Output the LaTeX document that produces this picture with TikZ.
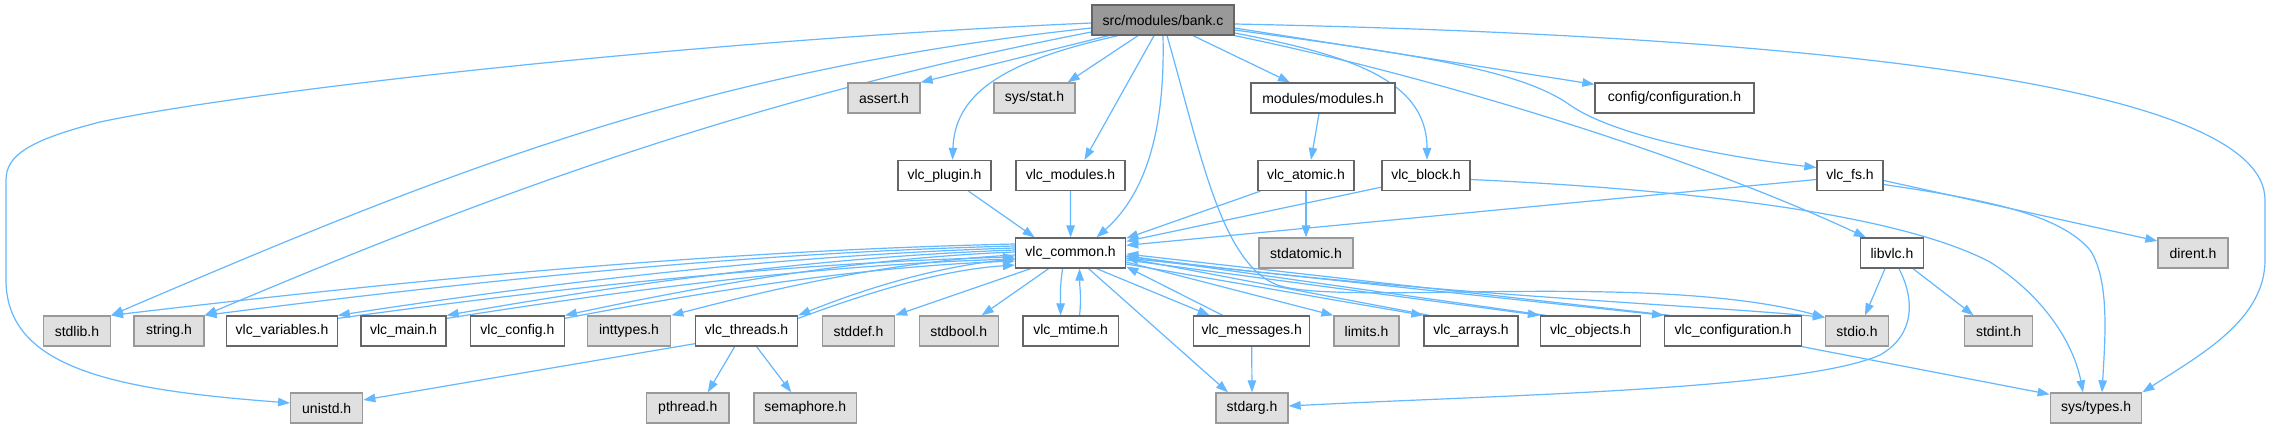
\documentclass[tikz,border=0pt]{standalone}
\usepackage{fontspec}
\setmainfont{Liberation Sans}
\usetikzlibrary{arrows.meta}
\definecolor{edgeblue}{HTML}{63B8FF}
\definecolor{boxdark}{HTML}{666666}
\definecolor{boxgray}{HTML}{999999}
\definecolor{boxfill}{HTML}{E0E0E0}
\definecolor{rootfill}{HTML}{999999}
\pgfdeclarelayer{bg}
\pgfsetlayers{bg,main}
\tikzset{
  box/.style={draw, rectangle, minimum height=30pt, inner sep=0pt, line width=1.3pt, font=\fontsize{14}{16}\selectfont},
  wbox/.style={box, draw=boxdark, fill=white},
  gbox/.style={box, draw=boxgray, fill=boxfill},
  rootbox/.style={box, draw=boxdark, fill=rootfill},
  edge/.style={draw=edgeblue, line width=1.2pt, -{Triangle[length=12pt,width=8.5pt]}},
}
\begin{document}
\begin{tikzpicture}[x=1pt,y=-1pt]
\useasboundingbox (0,0) rectangle (2271,429);
% row 0
\node[rootbox, minimum width=142pt] (bank) at (1163,20) {src/modules/bank.c};
% row 1
\node[gbox, minimum width=72pt] (assert) at (884,98) {assert.h};
\node[gbox, minimum width=81pt] (sysstat) at (1034.5,98) {sys/stat.h};
\node[wbox, minimum width=144pt] (mm) at (1323,98) {modules/modules.h};
\node[wbox, minimum width=159pt] (cfg) at (1674.5,98) {config/configuration.h};
% row 2
\node[wbox, minimum width=93pt] (plugin) at (944.5,175.5) {vlc\_plugin.h};
\node[wbox, minimum width=109pt] (modules) at (1070.5,175.5) {vlc\_modules.h};
\node[wbox, minimum width=96pt] (atomic) at (1306,175.5) {vlc\_atomic.h};
\node[wbox, minimum width=88pt] (block) at (1426,175.5) {vlc\_block.h};
\node[wbox, minimum width=66pt] (fs) at (1850,175.5) {vlc\_fs.h};
% row 3
\node[wbox, minimum width=110pt] (common) at (1070.6,253) {vlc\_common.h};
\node[gbox, minimum width=94pt] (stdatomic) at (1306,253) {stdatomic.h};
\node[wbox, minimum width=63pt] (libvlc) at (1892,253) {libvlc.h};
\node[gbox, minimum width=70pt] (dirent) at (2193,253) {dirent.h};
% row 4
\node[gbox, minimum width=67pt] (stdlib) at (77,331) {stdlib.h};
\node[gbox, minimum width=70pt] (string) at (169,331) {string.h};
\node[wbox, minimum width=110.5pt] (variables) at (282,331) {vlc\_variables.h};
\node[wbox, minimum width=85pt] (main) at (403.5,331) {vlc\_main.h};
\node[wbox, minimum width=93.6pt] (config) at (517.4,331) {vlc\_config.h};
\node[gbox, minimum width=83.4pt] (inttypes) at (629,331) {inttypes.h};
\node[wbox, minimum width=102pt] (threads) at (746.6,331) {vlc\_threads.h};
\node[gbox, minimum width=72pt] (stddef) at (858.5,331) {stddef.h};
\node[gbox, minimum width=79pt] (stdbool) at (958.7,331) {stdbool.h};
\node[wbox, minimum width=95.5pt] (mtime) at (1070.6,331) {vlc\_mtime.h};
\node[wbox, minimum width=116pt] (messages) at (1251.7,331) {vlc\_messages.h};
\node[gbox, minimum width=65pt] (limits) at (1366.5,331) {limits.h};
\node[wbox, minimum width=94pt] (arrays) at (1471,331) {vlc\_arrays.h};
\node[wbox, minimum width=100pt] (objects) at (1590.5,331) {vlc\_objects.h};
\node[wbox, minimum width=136.7pt] (configuration) at (1733,331) {vlc\_configuration.h};
\node[gbox, minimum width=63pt] (stdio) at (1857,331) {stdio.h};
\node[gbox, minimum width=68pt] (stdint) at (1998.6,331) {stdint.h};
% row 5
\node[gbox, minimum width=72pt] (unistd) at (326.7,408) {unistd.h};
\node[gbox, minimum width=82.4pt] (pthread) at (687.8,408) {pthread.h};
\node[gbox, minimum width=102.7pt] (semaphore) at (805.3,408) {semaphore.h};
\node[gbox, minimum width=72pt] (stdarg) at (1252,408) {stdarg.h};
\node[gbox, minimum width=91.5pt] (systypes) at (2096,408) {sys/types.h};
% bend points
\coordinate (u1) at (100,122);
\coordinate (u2) at (6,180);
\coordinate (u3) at (6,280);
\coordinate (s1) at (1275,284);
\coordinate (f1) at (1570,105);
\coordinate (t1) at (2265,200);
\coordinate (t2) at (2265,260);
\coordinate (b1) at (1990,262);
\coordinate (f2) at (2090,250);
\coordinate (l1) at (1880,355);
\begin{pgfonlayer}{bg}
\fill[white] (0,0) rectangle (2271,429);
% from bank.c
\draw[edge] ([yshift=-3pt]bank.west) .. controls (700,40) and (250,90) .. (u1) .. controls (30,140) and (6,155) .. (u2) -- (u3) .. controls (6,370) and (120,390) .. ([yshift=5pt]unistd.west);
\draw[edge] ([yshift=-8pt]bank.west) .. controls (700,70) and (450,170) .. (stdlib.north east);
\draw[edge] ([yshift=-12pt]bank.west) .. controls (760,96) and (500,190) .. (string.north east);
\draw[edge] ([xshift=17pt]bank.south west) -- (assert.north east);
\draw[edge] ([xshift=-25pt]bank.south) -- ([xshift=-8pt]sysstat.north east);
\draw[edge] ([xshift=-45pt]bank.south) .. controls (1010,60) and (955,90) .. ([xshift=8pt]plugin.north);
\draw[edge] ([xshift=-9pt]bank.south) -- ([xshift=14pt]modules.north);
\draw[edge] (bank.south) .. controls (1165,120) and (1150,190) .. ([xshift=26pt]common.north);
\draw[edge] ([xshift=4pt]bank.south) .. controls (1200,150) and (1220,260) .. (s1) .. controls (1330,308) and (1650,270) .. ([yshift=-2pt]stdio.north west);
\draw[edge] ([xshift=30pt]bank.south) -- ([xshift=-33pt]mm.north);
\draw[edge] ([yshift=-13pt]bank.east) .. controls (1350,55) and (1427,80) .. ([xshift=1pt]block.north);
\draw[edge] (bank.south east) .. controls (1450,80) and (1700,160) .. ([xshift=6pt]libvlc.north west);
\draw[edge] ([yshift=-8pt]bank.east) -- ([yshift=-2pt]cfg.north west);
\draw[edge] ([yshift=-10pt]bank.east) .. controls (1420,55) and (1520,70) .. (f1) .. controls (1620,140) and (1750,160) .. ([yshift=8pt]fs.west);
\draw[edge] ([yshift=-4pt]bank.east) .. controls (1780,35) and (2265,80) .. (t1) -- (t2) .. controls (2265,320) and (2200,355) .. (systypes.north east);
% second level
\draw[edge] ([xshift=24pt]plugin.south) -- ([xshift=-36pt]common.north);
\draw[edge] (modules.south) -- (common.north);
\draw[edge] ([xshift=-4pt]mm.south) -- ([xshift=5pt]atomic.north);
\draw[edge] ([xshift=3pt]atomic.south west) -- ([yshift=-1pt]common.north east);
\draw[edge] (atomic.south) -- (stdatomic.north);
\draw[edge] ([yshift=4pt]block.south west) -- ([yshift=-4pt]common.north east);
\draw[edge] ([yshift=-4pt]block.east) .. controls (1700,190) and (1900,215) .. (b1) .. controls (2050,300) and (2075,350) .. ([xshift=-13pt]systypes.north);
\draw[edge] ([yshift=-4pt]fs.west) -- ([yshift=-8pt]common.north east);
\draw[edge] ([yshift=-5pt]fs.east) -- ([yshift=12pt]dirent.west);
\draw[edge] ([yshift=-9pt]fs.east) .. controls (1990,200) and (2060,215) .. (f2) .. controls (2110,280) and (2105,340) .. ([xshift=6pt]systypes.north);
\draw[edge] ([xshift=-7pt]libvlc.south) -- ([xshift=8pt]stdio.north);
\draw[edge] ([xshift=21pt]libvlc.south) -- ([xshift=-25pt]stdint.north);
\draw[edge] ([xshift=7pt]libvlc.south) .. controls (1915,300) and (1915,335) .. (l1) .. controls (1800,390) and (1500,395) .. ([yshift=2pt]stdarg.east);
\draw[edge] (configuration.south east) -- ([yshift=-2pt]systypes.north west);
\draw[edge] ([yshift=3pt]threads.south west) -- ([yshift=8pt]unistd.east);
\draw[edge] ([xshift=-12pt]threads.south) -- ([xshift=20pt]pthread.north);
\draw[edge] ([xshift=10pt]threads.south) -- ([xshift=-14pt]semaphore.north);
\draw[edge] (messages.south) -- (stdarg.north);
\draw[edge] ([xshift=18pt]common.south) -- ([xshift=-24pt]stdarg.north);
% vlc_common fan, left
\draw[edge] ([yshift=9pt]common.west) .. controls +(-317,7) and +(271,-32) .. (stdlib.north east);
\draw[edge] ([yshift=7pt]common.west) .. controls +(-284,7) and +(244,-31) .. (string.north east);
\draw[edge] ([yshift=5pt]common.west) .. controls +(-237,7) and +(203,-31) .. (variables.north east);
\draw[edge] ([yshift=3pt]common.west) .. controls +(-200,7) and +(171,-30) .. (main.north east);
\draw[edge] ([yshift=1pt]common.west) .. controls +(-158,6) and +(136,-29) .. (config.north east);
\draw[edge] ([yshift=-2pt]common.west) .. controls +(-121,6) and +(103,-27) .. (inttypes.north east);
\draw[edge] ([yshift=-6pt]common.west) .. controls +(-76,6) and +(65,-26) .. (threads.north east);
\draw[edge] ([yshift=-3pt]variables.north east) .. controls +(203,-28) and +(-237,6) .. ([yshift=-4pt]common.west);
\draw[edge] ([yshift=-3pt]main.north east) .. controls +(171,-27) and +(-200,6) .. ([yshift=-6pt]common.west);
\draw[edge] ([yshift=-3pt]config.north east) .. controls +(136,-26) and +(-158,6) .. ([yshift=-8pt]common.west);
\draw[edge] ([yshift=-3pt]threads.north east) .. controls +(65,-24) and +(-76,5) .. ([yshift=-12pt]common.west);
\draw[edge] ([xshift=-40pt]common.south) -- (stddef.north east);
\draw[edge] ([xshift=-22pt]common.south) -- ([xshift=23pt]stdbool.north);
% vlc_common and vlc_mtime
\draw[edge] ([xshift=-8pt]common.south) .. controls +(-3,20) and +(0,-20) .. ([xshift=-10pt]mtime.north);
\draw[edge] ([xshift=9pt]mtime.north) .. controls +(2,-20) and +(0,20) .. ([xshift=9pt]common.south);
% vlc_common fan, right
\draw[edge] ([xshift=26pt]common.south) -- ([xshift=-42pt]messages.north);
\draw[edge] ([xshift=-29pt]messages.north) -- ([yshift=2pt]common.south east);
\draw[edge] ([yshift=-9pt]common.east) -- (limits.north west);
\draw[edge] ([yshift=-11pt]common.east) -- (arrays.north west);
\draw[edge] ([xshift=6pt]arrays.north west) -- ([yshift=-5pt]common.east);
\draw[edge] ([yshift=-7pt]common.east) -- (objects.north west);
\draw[edge] ([xshift=6pt]objects.north west) -- ([yshift=-3pt]common.east);
\draw[edge] ([yshift=-5pt]common.east) -- (configuration.north west);
\draw[edge] ([xshift=6pt]configuration.north west) -- ([yshift=-1pt]common.east);
\draw[edge] ([yshift=-3pt]common.east) .. controls +(270,37) and +(-120,-12) .. ([yshift=-2pt]stdio.north west);
\end{pgfonlayer}
\end{tikzpicture}
\end{document}
